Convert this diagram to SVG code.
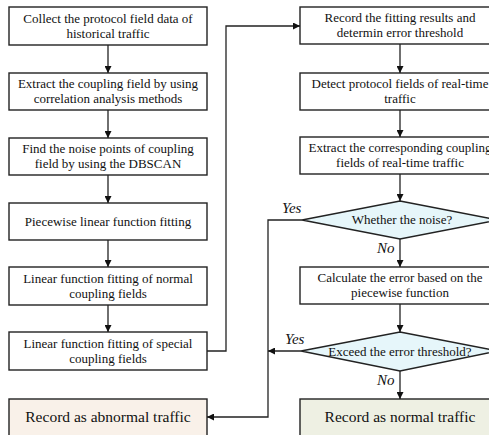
<svg xmlns="http://www.w3.org/2000/svg" width="489" height="435" viewBox="0 0 489 435">
<style>
.b{fill:#fff;stroke:#222;stroke-width:1.4}
text{font-family:'Liberation Serif','DejaVu Serif','Times New Roman',serif;fill:#111}
.t{font-size:13px;text-anchor:middle}
.r{font-size:15.5px;text-anchor:middle}
.l{font-size:15px;font-style:italic}
.c{fill:none;stroke:#222;stroke-width:1.3}
</style>
<defs>
<marker id="a" viewBox="0 0 10 10" refX="10" refY="5" markerWidth="7" markerHeight="7" markerUnits="userSpaceOnUse" orient="auto">
<path d="M0,0 L10,5 L0,10 z" fill="#111"/>
</marker>
</defs>
<g id="n1"><rect class="b" x="9" y="7" width="198" height="38"/><text class="t" x="108" y="23">Collect the protocol field data of</text><text class="t" x="108" y="38">historical traffic</text></g>
<g id="n2"><rect class="b" x="9" y="73" width="198" height="37"/><text class="t" x="108" y="88">Extract the coupling field by using</text><text class="t" x="108" y="103">correlation analysis methods</text></g>
<g id="n3"><rect class="b" x="9" y="138" width="198" height="37"/><text class="t" x="108" y="153">Find the noise points of coupling</text><text class="t" x="108" y="168">field by using the DBSCAN</text></g>
<g id="n4"><rect class="b" x="9" y="203" width="198" height="37"/><text class="t" x="108" y="226">Piecewise linear function fitting</text></g>
<g id="n5"><rect class="b" x="9" y="267" width="198" height="38"/><text class="t" x="108" y="283">Linear function fitting of normal</text><text class="t" x="108" y="298">coupling fields</text></g>
<g id="n6"><rect class="b" x="9" y="332" width="198" height="38"/><text class="t" x="108" y="348">Linear function fitting of special</text><text class="t" x="108" y="363">coupling fields</text></g>
<g id="n7"><rect class="b" x="9" y="399" width="198" height="45" style="fill:#f9f1e9"/><text class="r" x="108" y="422">Record as abnormal traffic</text></g>
<g id="m1"><rect class="b" x="300" y="7" width="200" height="37"/><text class="t" x="400" y="22">Record the fitting results and</text><text class="t" x="400" y="37">determin error threshold</text></g>
<g id="m2"><rect class="b" x="300" y="73" width="200" height="37"/><text class="t" x="400" y="88">Detect protocol fields of real-time</text><text class="t" x="400" y="103">traffic</text></g>
<g id="m3"><rect class="b" x="300" y="137" width="200" height="37"/><text class="t" x="400" y="152">Extract the corresponding coupling</text><text class="t" x="400" y="167">fields of real-time traffic</text></g>
<g id="d1"><polygon class="b" points="400,201 498,220 400,239 302,220" style="fill:#e6f6fa"/><text class="t" x="402" y="224">Whether the noise?</text></g>
<g id="m4"><rect class="b" x="300" y="267" width="200" height="37"/><text class="t" x="400" y="282">Calculate the error based on the</text><text class="t" x="400" y="297">piecewise function</text></g>
<g id="d2"><polygon class="b" points="400,332 498,351 400,371 301,351" style="fill:#e6f6fa"/><text class="t" x="400" y="356">Exceed the error threshold?</text></g>
<g id="m5"><rect class="b" x="300" y="399" width="200" height="45" style="fill:#eef0e3"/><text class="r" x="400" y="422">Record as normal traffic</text></g>
<g id="edges">
<line class="c" x1="108" y1="45" x2="108" y2="73" marker-end="url(#a)"/>
<line class="c" x1="108" y1="110" x2="108" y2="138" marker-end="url(#a)"/>
<line class="c" x1="108" y1="175" x2="108" y2="203" marker-end="url(#a)"/>
<line class="c" x1="108" y1="240" x2="108" y2="267" marker-end="url(#a)"/>
<line class="c" x1="108" y1="305" x2="108" y2="332" marker-end="url(#a)"/>
<polyline class="c" points="207,351 226,351 226,26 300,26" marker-end="url(#a)"/>
<line class="c" x1="400" y1="44" x2="400" y2="73" marker-end="url(#a)"/>
<line class="c" x1="400" y1="110" x2="400" y2="137" marker-end="url(#a)"/>
<line class="c" x1="400" y1="174" x2="400" y2="201" marker-end="url(#a)"/>
<line class="c" x1="400" y1="239" x2="400" y2="267" marker-end="url(#a)"/>
<line class="c" x1="400" y1="304" x2="400" y2="332" marker-end="url(#a)"/>
<line class="c" x1="400" y1="371" x2="400" y2="399" marker-end="url(#a)"/>
<polyline class="c" points="302,220 268,220 268,417 207,417" marker-end="url(#a)"/>
<line class="c" x1="301" y1="351" x2="268" y2="351" marker-end="url(#a)"/>
<text class="l" x="282" y="213">Yes</text>
<text class="l" x="377" y="253">No</text>
<text class="l" x="285" y="344">Yes</text>
<text class="l" x="377" y="385">No</text>
</g>
</svg>
